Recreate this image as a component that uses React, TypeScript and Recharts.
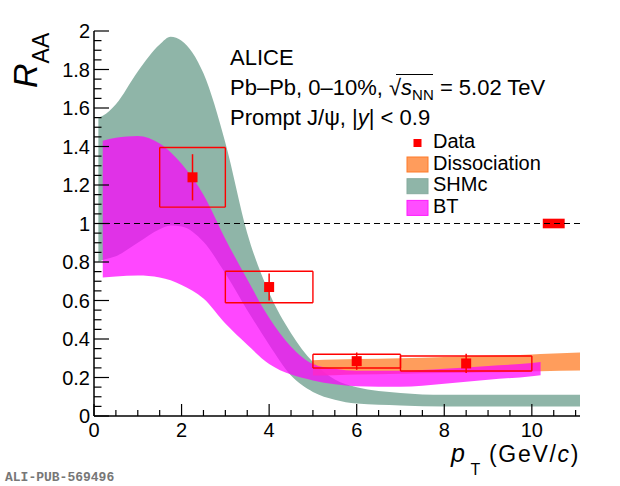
import React from 'react';
import {
  ComposedChart,
  Area,
  Scatter,
  ErrorBar,
  XAxis,
  YAxis,
  ReferenceLine,
  ReferenceArea,
} from 'recharts';

const FONT = '"Liberation Sans", Arial, Helvetica, sans-serif';

// model bands, sampled at these pT values (GeV/c)
const gridPt = [0.1, 0.2, 0.5, 1, 1.5, 1.75, 2, 2.5, 3, 3.5, 4, 4.5, 5, 5.5, 6, 7, 8, 9, 10, 10.2, 11.1];
const shmcHigh = [1.55, 1.56, 1.62, 1.79, 1.93, 1.97, 1.95, 1.78, 1.42, 0.95, 0.64, 0.43, 0.28, 0.19, 0.15, 0.12, 0.11, 0.11, 0.11, 0.11, 0.11];
const shmcLow = [0.8, 0.81, 0.83, 0.9, 0.97, 0.99, 0.985, 0.905, 0.74, 0.55, 0.37, 0.21, 0.125, 0.085, 0.065, 0.055, 0.05, 0.05, 0.05, 0.05, 0.05];
const btHigh = [null, 1.43, 1.445, 1.455, 1.415, 1.37, 1.31, 1.15, 0.92, 0.71, 0.51, 0.36, 0.27, 0.245, 0.235, 0.235, 0.245, 0.26, 0.275, 0.28, null];
const btLow = [null, 0.72, 0.725, 0.73, 0.72, 0.705, 0.68, 0.61, 0.48, 0.37, 0.27, 0.215, 0.185, 0.165, 0.155, 0.152, 0.168, 0.188, 0.207, 0.212, null];
const dissHigh = [null, null, null, null, null, null, null, null, null, null, null, null, 0.29, 0.293, 0.296, 0.3, 0.307, 0.313, 0.32, 0.322, 0.33];
const dissLow = [null, null, null, null, null, null, null, null, null, null, null, null, 0.21, 0.212, 0.215, 0.22, 0.223, 0.227, 0.231, 0.232, 0.236];

// ALICE data
const dataPt = [2.25, 4, 6, 8.5];
const dataRaa = [1.24, 0.67, 0.285, 0.273];
const dataStat = [0.12, 0.07, 0.045, 0.05];
const dataSyst = [0.155, 0.082, 0.036, 0.039];
const binLow = [1.5, 3, 5, 7];
const binHigh = [3, 5, 7, 10];
const globalPt = [10.25, 10.75];
const globalUnc = 0.025;

const xMajor = [0, 2, 4, 6, 8, 10];
const yMajor = [0, 0.2, 0.4, 0.6, 0.8, 1, 1.2, 1.4, 1.6, 1.8, 2];
const X_MAX = 11.1;

const xTicks: number[] = [];
for (let i = 0; i <= 22; i++) xTicks.push(i / 2);
const yTicks: number[] = [];
for (let i = 0; i <= 40; i++) yTicks.push(Math.round(i * 5) / 100);

const isMajor = (v: number, majors: number[]) => majors.some((m) => Math.abs(m - v) < 1e-6);

const pair = (lo: (number | null)[], hi: (number | null)[], i: number) =>
  lo[i] == null || hi[i] == null ? undefined : [lo[i], hi[i]];

const modelRows = gridPt.map((x, i) => ({
  x,
  shmc: pair(shmcLow, shmcHigh, i),
  bt: pair(btLow, btHigh, i),
  diss: pair(dissLow, dissHigh, i),
}));

const points = dataPt.map((x, i) => ({ x, y: dataRaa[i], stat: dataStat[i] }));

// systematic boxes: horizontal edges as x error bars, vertical edges as y error bars
const boxTopBottom = dataPt.flatMap((x, i) =>
  [1, -1].map((s) => ({ x, y: dataRaa[i] + s * dataSyst[i], ex: [x - binLow[i], binHigh[i] - x] })),
);
const boxSides = dataPt.flatMap((_, i) =>
  [binLow[i], binHigh[i]].map((x) => ({ x, y: dataRaa[i], ey: dataSyst[i] })),
);

const legendItems = [
  { name: 'Dissociation', fill: '#ff9c5c', stroke: '#ff7a29' },
  { name: 'SHMc', fill: '#8fb5a8', stroke: '#86ab9e' },
  { name: 'BT', fill: '#ff4dff', stroke: '#ff1aff' },
];

function BottomTick(props: any) {
  const { x, y, payload } = props;
  const major = isMajor(payload.value, xMajor);
  return (
    <g>
      <line x1={x} x2={x} y1={y} y2={y - (major ? 12 : 6)} stroke="#000" strokeWidth={1.2} />
      {major && (
        <text x={x} y={y + 21} textAnchor="middle" fontSize={20} fontFamily={FONT} fill="#000">
          {payload.value}
        </text>
      )}
    </g>
  );
}

function TopTick(props: any) {
  const { x, y, payload } = props;
  const major = isMajor(payload.value, xMajor);
  return <line x1={x} x2={x} y1={y} y2={y + (major ? 12 : 6)} stroke="#000" strokeWidth={1.2} />;
}

function LeftTick(props: any) {
  const { x, y, payload } = props;
  const major = isMajor(payload.value, yMajor);
  return (
    <g>
      <line x1={x} x2={x + (major ? 15 : 7.5)} y1={y} y2={y} stroke="#000" strokeWidth={1.2} />
      {major && (
        <text x={x - 4} y={y + 7} textAnchor="end" fontSize={20} fontFamily={FONT} fill="#000">
          {String(payload.value)}
        </text>
      )}
    </g>
  );
}

function RightTick(props: any) {
  const { x, y, payload } = props;
  const major = isMajor(payload.value, yMajor);
  return <line x1={x} x2={x - (major ? 15 : 7.5)} y1={y} y2={y} stroke="#000" strokeWidth={1.2} />;
}

const square = (p: any) => <rect x={p.cx - 5} y={p.cy - 5} width={10} height={10} fill="#ff0000" />;
const hidden = () => <g />;

export default function App() {
  return (
    <div style={{ position: 'absolute', left: 0, top: 0, width: 620, height: 486, background: '#fff' }}>
      <ComposedChart width={620} height={486} data={modelRows} margin={{ top: 31, right: 40, bottom: 0, left: 0 }}>
        <XAxis
          dataKey="x"
          type="number"
          domain={[0, X_MAX]}
          ticks={xTicks}
          interval={0}
          height={70}
          tickSize={0}
          tickMargin={0}
          tickLine={false}
          tick={(p: any) => <BottomTick {...p} />}
          axisLine={{ stroke: '#000', strokeWidth: 1.5 }}
        />
        <XAxis
          xAxisId="top"
          orientation="top"
          type="number"
          domain={[0, X_MAX]}
          ticks={xTicks}
          interval={0}
          height={0}
          tickSize={0}
          tickMargin={0}
          tickLine={false}
          tick={(p: any) => <TopTick {...p} />}
          axisLine={{ stroke: '#000', strokeWidth: 1.5 }}
        />
        <YAxis
          type="number"
          domain={[0, 2]}
          ticks={yTicks}
          interval={0}
          width={94}
          tickSize={0}
          tickMargin={0}
          tickLine={false}
          tick={(p: any) => <LeftTick {...p} />}
          axisLine={{ stroke: '#000', strokeWidth: 1.5 }}
        />
        <YAxis
          yAxisId="right"
          orientation="right"
          type="number"
          domain={[0, 2]}
          ticks={yTicks}
          interval={0}
          width={0}
          tickSize={0}
          tickMargin={0}
          tickLine={false}
          tick={(p: any) => <RightTick {...p} />}
          axisLine={{ stroke: '#000', strokeWidth: 1.5 }}
        />
        <Area
          dataKey="shmc"
          type="monotone"
          stroke="none"
          fill="#8fb5a8"
          fillOpacity={1}
          connectNulls
          dot={false}
          activeDot={false}
          isAnimationActive={false}
        />
        <Area
          dataKey="diss"
          type="monotone"
          stroke="none"
          fill="#ff8c40"
          fillOpacity={0.85}
          connectNulls
          dot={false}
          activeDot={false}
          isAnimationActive={false}
        />
        <Area
          dataKey="bt"
          type="monotone"
          stroke="none"
          fill="#ff00ff"
          fillOpacity={0.72}
          connectNulls
          dot={false}
          activeDot={false}
          isAnimationActive={false}
        />
        <ReferenceLine y={1} stroke="#000" strokeWidth={1} strokeDasharray="6 4" />
        <ReferenceArea
          x1={globalPt[0]}
          x2={globalPt[1]}
          y1={1 - globalUnc}
          y2={1 + globalUnc}
          fill="#ff0000"
          fillOpacity={1}
          stroke="none"
        />
        <Scatter data={boxTopBottom} dataKey="y" shape={hidden} isAnimationActive={false}>
          <ErrorBar dataKey="ex" direction="x" width={0} stroke="#ff0000" strokeWidth={1.4} />
        </Scatter>
        <Scatter data={boxSides} dataKey="y" shape={hidden} isAnimationActive={false}>
          <ErrorBar dataKey="ey" direction="y" width={0} stroke="#ff0000" strokeWidth={1.4} />
        </Scatter>
        <Scatter data={points} dataKey="y" shape={square} isAnimationActive={false}>
          <ErrorBar dataKey="stat" direction="y" width={0} stroke="#ff0000" strokeWidth={1.5} />
        </Scatter>
      </ComposedChart>

      <svg
        width={620}
        height={486}
        style={{ position: 'absolute', left: 0, top: 0, pointerEvents: 'none' }}
        fontFamily={FONT}
      >
        <text transform="translate(37,88) rotate(-90)" fill="#000">
          <tspan fontSize={34} fontStyle="italic">R</tspan>
          <tspan fontSize={23} dy={12}>AA</tspan>
        </text>
        <text x={451} y={461.5} fill="#000" fontSize={25} fontStyle="italic">p</text>
        <text x={470.5} y={474.5} fill="#000" fontSize={16}>T</text>
        <text x={489} y={461.5} fill="#000" fontSize={23} letterSpacing={1.7}>
          <tspan>(GeV/</tspan>
          <tspan fontStyle="italic">c</tspan>
          <tspan>)</tspan>
        </text>

        <text x={230} y={65} fontSize={22} fill="#000">ALICE</text>
        <text x={230} y={94.5} fontSize={22} fill="#000">
          <tspan>Pb–Pb, 0–10%, √</tspan>
          <tspan fontStyle="italic">s</tspan>
          <tspan fontSize={15} dy={5}>NN</tspan>
          <tspan dy={-5}> = 5.02 TeV</tspan>
        </text>
        <line x1={396} x2={433} y1={74.5} y2={74.5} stroke="#000" strokeWidth={1.2} />
        <text x={230} y={125} fontSize={22} fill="#000">
          <tspan>Prompt J/ψ, |</tspan>
          <tspan fontStyle="italic">y</tspan>
          <tspan>| &lt; 0.9</tspan>
        </text>

        <rect x={413.5} y={139} width={8} height={8} fill="#ff0000" />
        <text x={433} y={148} fontSize={20} fill="#000">Data</text>
        {legendItems.map((it, i) => (
          <g key={it.name}>
            <rect x={407} y={157 + i * 21.7} width={21} height={15} fill={it.fill} stroke={it.stroke} strokeWidth={1} />
            <text x={433} y={169.5 + i * 21.7} fontSize={20} fill="#000">{it.name}</text>
          </g>
        ))}

        <text x={5} y={481} fontSize={13} fontWeight="bold" fontFamily='"Liberation Mono", "DejaVu Sans Mono", monospace' fill="#777">
          ALI-PUB-569496
        </text>
      </svg>
    </div>
  );
}
